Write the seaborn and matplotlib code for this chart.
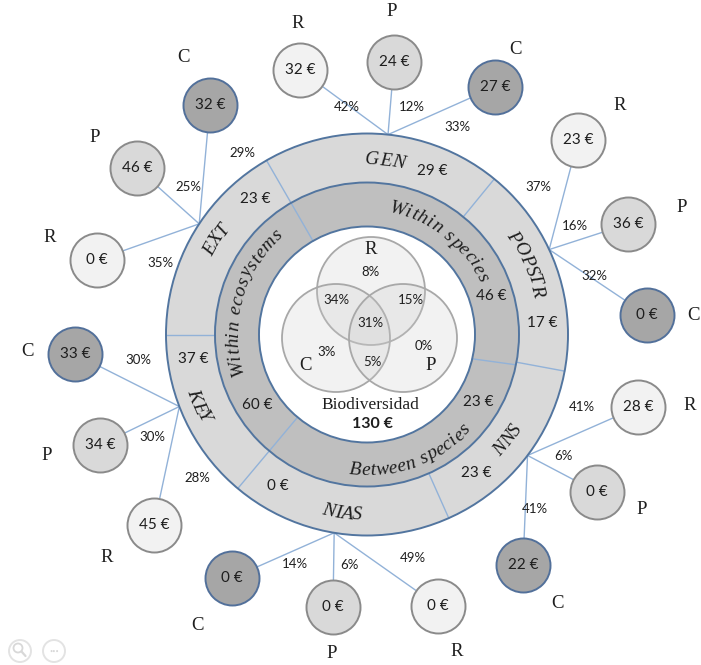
import numpy as np
import pandas as pd
import matplotlib
matplotlib.use("Agg")
import matplotlib.pyplot as plt
import seaborn as sns
from matplotlib.patches import Wedge, Circle
from matplotlib.font_manager import FontProperties

sns.set_theme(style="white")
plt.rcParams['font.family'] = ['Lato', 'DejaVu Sans']

# --- datos ---
grupos = ['GEN', 'POPSTR', 'NNS', 'NIAS', 'KEY', 'EXT']
valores_grupo = [29, 17, 23, 0, 37, 23]
niveles = ['Within species', 'Between species', 'Within ecosystems']
valores_nivel = [46, 23, 60]
letras_sat = [['R', 'P', 'C'], ['R', 'P', 'C'], ['R', 'P', 'C'],
              ['C', 'P', 'R'], ['C', 'P', 'R'], ['C', 'P', 'R']]
valores_sat = [[32, 24, 27], [23, 36, 0], [28, 0, 22],
               [0, 0, 0], [33, 34, 45], [32, 46, 0]]
pct_sat = [[42, 12, 33], [37, 16, 32], [41, 6, 41],
           [14, 6, 49], [30, 30, 28], [29, 25, 35]]
venn_letras = ['R', 'C', 'P']
venn_regiones = ['R', 'RC', 'RP', 'RCP', 'C', 'CP', 'P']
venn_pct = [8, 34, 15, 31, 3, 5, 0]
total = 130
titulo_centro = 'Biodiversidad'

# --- layout (pixeles) ---
CX, CY = 367, 334.5
R_OUT, R_MID, R_IN = 201, 152, 108
ang_conv = [84, 25, -37, -99.4, 201, 146.6]
pos_sat = [[(300, 70), (394, 62), (495, 87)],
           [(578, 140), (628, 224), (647, 315)],
           [(638, 407), (597, 492), (523, 565)],
           [(232, 578), (333, 607), (438, 606)],
           [(75, 354), (100, 445), (154, 525)],
           [(210, 105), (137, 168), (97, 260)]]
pos_letra = [[(298, 23), (392, 12), (516, 49)],
             [(620, 106), (682, 207), (693, 315)],
             [(690, 405), (642, 510), (558, 604)],
             [(197, 625), (332, 653), (457, 652)],
             [(27, 352), (47, 455), (107, 557)],
             [(183, 57), (95, 138), (50, 237)]]
pos_pct = [[(347, 107), (412, 107), (457, 127)],
           [(538, 187), (575, 226), (594, 276)],
           [(582, 407), (563, 456), (535, 509)],
           [(295, 564), (349, 565), (413, 558)],
           [(138, 360), (152, 437), (197, 478)],
           [(242, 153), (188, 187), (160, 263)]]
ang_grupo = [84, 24, -37, -98, 202.8, 148]
r_grupo = [170, 171, 181, 185, 188, 173]
ang_valor_grupo = [68.4, 3.8, -51.7, -120.4, 188.1, 129.6]
ang_nivel = [52, -70, 164]
r_nivel = [124, 141, 129]
ang_valor_nivel = [17.4, -31.2, 212.7]
venn_centros = [(371, 291), (336, 338), (403, 338)]
venn_pos_letra = [(371, 250), (305, 366), (431, 366)]
venn_pos_pct = [(370, 272), (336, 300), (411, 300), (370, 323), (327, 352), (372, 362), (424, 346)]

colores = {'R': ('#f2f2f2', '#8a8a8a'), 'P': ('#d9d9d9', '#8a8a8a'), 'C': ('#a6a6a6', '#52709a')}
AZUL = '#52759f'
AZUL_CLARO = '#92b2d8'
TXT = '#1e1e1e'

serif = FontProperties(family='Liberation Serif', size=13.5)
serif_it = FontProperties(family='Liberation Serif', style='italic', size=14)

fig = plt.figure(figsize=(7.01, 6.65), dpi=100)
ax = fig.add_axes([0, 0, 1, 1])
renderer = fig.canvas.get_renderer()


def pol(a, r):
    t = np.radians(a)
    return CX + r * np.cos(t), CY - r * np.sin(t)


def ancho(ch, fp):
    w1 = renderer.get_text_width_height_descent('a' + ch + 'a', fp, ismath=False)[0]
    w0 = renderer.get_text_width_height_descent('aa', fp, ismath=False)[0]
    return w1 - w0


def texto_arco(s, medio, r, fp, arriba=True, extra=0.0):
    ws = [ancho(c, fp) + extra for c in s]
    tot = sum(ws)
    acum = 0
    for c, w in zip(s, ws):
        off = np.degrees((acum + w / 2) / r)
        acum += w
        if arriba:
            a = medio + np.degrees(tot / (2 * r)) - off
            rot = a - 90
        else:
            a = medio - np.degrees(tot / (2 * r)) + off
            rot = a + 90
        x, y = pol(a, r)
        ax.text(x, y, c, fontproperties=fp, rotation=rot, rotation_mode='anchor',
                ha='center', va='baseline', color=TXT, zorder=6)


# lineas de conexion
for g in range(len(grupos)):
    x0, y0 = pol(ang_conv[g], R_OUT)
    for (x1, y1) in pos_sat[g]:
        ax.plot([x0, x1], [y0, y1], color=AZUL_CLARO, lw=1.0, zorder=1)

# anillos
ax.add_patch(Wedge((CX, CY), R_OUT, 0, 360, width=R_OUT - R_MID, facecolor='#d9d9d9', edgecolor='none', zorder=2))
ax.add_patch(Wedge((CX, CY), R_MID, 0, 360, width=R_MID - R_IN, facecolor='#bfbfbf', edgecolor='none', zorder=2))
ax.add_patch(Circle((CX, CY), R_IN, facecolor='white', edgecolor='none', zorder=2))
for r in [R_OUT, R_MID, R_IN]:
    ax.add_patch(Circle((CX, CY), r, fill=False, edgecolor=AZUL, lw=1.4, zorder=4))

# divisiones
for a in [50.7, -10.5, -66, 180]:
    x0, y0 = pol(a, R_MID)
    x1, y1 = pol(a, R_OUT)
    ax.plot([x0, x1], [y0, y1], color=AZUL_CLARO, lw=1.0, zorder=3)
for a in [120, 230]:
    x0, y0 = pol(a, R_IN)
    x1, y1 = pol(a, R_OUT)
    ax.plot([x0, x1], [y0, y1], color=AZUL_CLARO, lw=1.0, zorder=3)
x0, y0 = pol(-13, R_IN)
x1, y1 = pol(-11.5, R_MID)
ax.plot([x0, x1], [y0, y1], color=AZUL_CLARO, lw=1.0, zorder=3)

# venn
for (vx, vy) in venn_centros:
    ax.add_patch(Circle((vx, vy), 54, facecolor=(0.8, 0.8, 0.8, 0.25), edgecolor='none', zorder=3))
    ax.add_patch(Circle((vx, vy), 54, fill=False, edgecolor='#a8a8a8', lw=1.3, zorder=3))
for l, (x, y) in zip(venn_letras, venn_pos_letra):
    ax.text(x, y, l, fontproperties=serif, ha='center', va='center', color=TXT, zorder=6)
for p, (x, y) in zip(venn_pct, venn_pos_pct):
    ax.text(x, y, f'{p}%', fontsize=9.5, ha='center', va='center', color=TXT, zorder=6)
ax.text(370, 405, titulo_centro, fontproperties=FontProperties(family='Liberation Serif', size=12.5),
        ha='center', va='center', color=TXT, zorder=6)
ax.text(372, 424, f'{total} €', fontsize=11.5, fontweight='bold', ha='center', va='center', color=TXT, zorder=6)

# etiquetas de anillos
for g, nombre in enumerate(grupos):
    texto_arco(nombre, ang_grupo[g], r_grupo[g], serif_it, arriba=(0 < ang_grupo[g] < 180))
    x, y = pol(ang_valor_grupo[g], 176)
    ax.text(x, y, f'{valores_grupo[g]} €', fontsize=11, ha='center', va='center', color=TXT, zorder=6)
for i, nombre in enumerate(niveles):
    texto_arco(nombre, ang_nivel[i], r_nivel[i], serif_it, arriba=(ang_nivel[i] > 0), extra=0.6)
    x, y = pol(ang_valor_nivel[i], 130)
    ax.text(x, y, f'{valores_nivel[i]} €', fontsize=11, ha='center', va='center', color=TXT, zorder=6)

# nodos satelite
filas = []
for g in range(len(grupos)):
    for k in range(3):
        filas.append({'x': pos_sat[g][k][0], 'y': pos_sat[g][k][1], 'tipo': letras_sat[g][k],
                      'valor': valores_sat[g][k]})
nodos = pd.DataFrame(filas)
for tipo, (fc, ec) in colores.items():
    sub = nodos[nodos['tipo'] == tipo]
    sns.scatterplot(data=sub, x='x', y='y', s=1512, color=fc, edgecolor=ec, linewidth=1.4,
                    ax=ax, zorder=5, legend=False)
for _, fila in nodos.iterrows():
    ax.text(fila['x'], fila['y'], f"{fila['valor']} €", fontsize=11, ha='center', va='center',
            color=TXT, zorder=6)
for g in range(len(grupos)):
    for k in range(3):
        x, y = pos_letra[g][k]
        ax.text(x, y, letras_sat[g][k], fontproperties=serif, ha='center', va='center', color=TXT, zorder=6)
        x, y = pos_pct[g][k]
        ax.text(x, y, f'{pct_sat[g][k]}%', fontsize=9.5, ha='center', va='center', color=TXT, zorder=6)

# iconos
for ix in [20, 54]:
    ax.add_patch(Circle((ix, 651), 11, fill=False, edgecolor='#e3e3e3', lw=1.4, zorder=1))
ax.add_patch(Circle((18, 648), 4.5, fill=False, edgecolor='#d8d8d8', lw=1.3, zorder=1))
ax.plot([21.5, 25.5], [651.5, 656], color='#d8d8d8', lw=1.6, zorder=1)
ax.text(54, 651, '•••', fontsize=4, ha='center', va='center', color='#d8d8d8')

ax.set_xlim(0, 701)
ax.set_ylim(665, 0)
ax.set_axis_off()
fig.savefig('out.png', dpi=100)
